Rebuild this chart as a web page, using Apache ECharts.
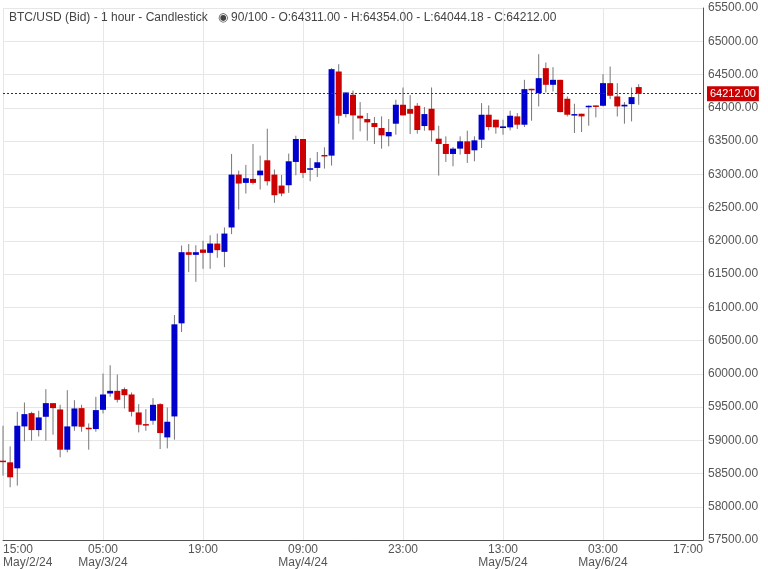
<!DOCTYPE html>
<html>
<head>
<meta charset="utf-8">
<script src="https://cdn.jsdelivr.net/npm/echarts@6/dist/echarts.min.js"></script>
<style>
html,body{margin:0;padding:0;background:#fff}
#chart{width:768px;height:569px}
</style>
</head>
<body>
<div id="chart"></div>
<script>
// hourly candles from May/2/24 15:00
const opens  = [58693,58668,58578,59208,59408,59153,59353,59558,59463,58858,59208,59483,59188,59168,59458,59703,59743,59768,59688,59418,59243,59293,59543,59043,59358,60758,61828,61788,61868,61818,61958,61833,62200,62995,62870,62930,62985,63210,62995,62830,62835,63185,63530,63085,63095,63290,63280,64545,63905,64195,63880,63830,63770,63695,63570,63760,64045,63980,64030,63725,63985,63535,63455,63305,63385,63495,63360,63520,63895,63820,63695,63705,63870,63745,64285,64220,64595,64345,64420,64135,63900,63910,64010,64035,64030,64370,64170,64020,64055,64311]
const highs  = [59218,58908,59428,59568,59428,59443,59768,59558,59533,59753,59603,59533,59253,59653,60003,60128,59988,59793,59718,59543,59468,59633,59558,59493,60883,61928,61950,61933,62000,62083,62108,62200,63305,63055,63140,63455,63280,63685,63070,62990,63310,63580,63530,63245,63335,63405,64595,64655,64230,64260,64085,63920,63860,63870,63830,64120,64305,64190,64070,64010,64305,63730,63570,63410,63570,63655,63570,64070,64035,63820,63820,63955,63920,64420,64285,64805,64680,64610,64420,64170,64060,63910,64035,64035,64505,64620,64370,64085,64305,64354]
const lows   = [58468,58293,58318,58983,58993,59058,58993,59083,58743,58818,59143,59128,58858,59128,59403,59653,59568,59478,59358,59118,59143,59233,58868,58878,59008,60628,61528,61383,61578,61578,61743,61603,62100,62470,62710,62845,62770,62830,62570,62670,62720,62985,62945,62895,62960,63085,63130,63760,63855,63520,63645,63505,63455,63385,63420,63595,63885,63605,63610,63655,63495,62980,63185,63120,63295,63170,63195,63395,63660,63610,63595,63660,63680,63710,63805,64020,64230,64245,63930,63870,63620,63635,63730,63855,64020,64130,63870,63760,63795,64044.18]
const closes = [58683,58443,59218,59393,59153,59343,59558,59483,58858,59208,59478,59203,59178,59453,59688,59743,59608,59678,59428,59233,59238,59533,59108,59278,60743,61828,61788,61828,61818,61958,61858,62108,62995,62860,62940,62870,63055,62895,62685,62710,63195,63530,63020,63090,63180,63285,64580,63880,64230,63885,63840,63780,63710,63585,63635,64045,63885,63910,63665,63905,63660,63455,63305,63385,63495,63305,63510,63895,63710,63705,63720,63880,63745,64280,64275,64445,64345,64420,63935,63895,63905,63870,64030,64030,64370,64180,64020,64045,64160,64212]
const totalHours = 99
const tickLabels = {0:'15:00\nMay/2/24',14:'05:00\nMay/3/24',28:'19:00',42:'09:00\nMay/4/24',56:'23:00',70:'13:00\nMay/5/24',84:'03:00\nMay/6/24',98:'17:00'}
const lastPrice = 64212

let cats = []
for (let i = 0; i < totalHours; i++) cats.push(i)
let data = []
for (let i = 0; i < opens.length; i++) data.push([i, opens[i], closes[i], lows[i], highs[i]])

const UP = '#0000cc', DOWN = '#cc0000'

let option = {
    animation: false,
    title: {
        text: 'BTC/USD (Bid) - 1 hour - Candlestick   \u25C9 90/100 - O:64311.00 - H:64354.00 - L:64044.18 - C:64212.00',
        left: 4, top: 7,
        textStyle: {fontFamily: 'Liberation Sans', fontSize: 12, fontWeight: 'normal', color: '#444'}
    },
    grid: {left: 3, right: 65, top: 8, bottom: 28, show: false},
    xAxis: {
        type: 'category',
        data: cats,
        boundaryGap: false,
        axisLine: {lineStyle: {color: '#555'}},
        axisTick: {show: false},
        splitLine: {show: true, interval: (i) => i % 14 === 0, lineStyle: {color: '#e6e6e6'}},
        axisLabel: {
            interval: 0,
            alignMinLabel: 'left',
            alignMaxLabel: 'right',
            formatter: (v, i) => tickLabels[i] || '',
            color: '#555', fontFamily: 'Liberation Sans', fontSize: 12, lineHeight: 13, margin: 3
        }
    },
    yAxis: {
        type: 'value',
        position: 'right',
        min: 57500, max: 65500, interval: 500,
        axisLine: {show: true, lineStyle: {color: '#555'}},
        axisTick: {show: false},
        splitLine: {lineStyle: {color: '#e6e6e6'}},
        axisLabel: {formatter: v => v.toFixed(2), color: '#555', fontFamily: 'Liberation Sans', fontSize: 12, margin: 5}
    },
    series: [{
        type: 'custom',
        data: data,
        renderItem: (params, api) => {
            let x = api.value(0)
            let o = api.value(1), c = api.value(2)
            let lo = api.coord([x, api.value(3)]), hi = api.coord([x, api.value(4)])
            let top = api.coord([x, Math.max(o, c)]), bot = api.coord([x, Math.min(o, c)])
            let w = 6
            let col = c >= o ? UP : DOWN
            return {
                type: 'group',
                children: [
                    {type: 'line', shape: {x1: lo[0], y1: lo[1], x2: hi[0], y2: hi[1]}, style: {stroke: '#777', lineWidth: 1}},
                    {type: 'rect', shape: {x: top[0] - w / 2, y: top[1], width: w, height: Math.max(bot[1] - top[1], 1.5)}, style: {fill: col}}
                ]
            }
        },
        markLine: {
            symbol: 'none',
            silent: true,
            data: [{yAxis: lastPrice}],
            lineStyle: {color: '#333', type: [2, 2], width: 1},
            label: {
                position: 'end', formatter: lastPrice.toFixed(2),
                backgroundColor: DOWN, color: '#fff', padding: [2, 3],
                fontFamily: 'Liberation Sans', fontSize: 11, distance: 4
            }
        }
    }]
}
echarts.init(document.querySelector('#chart')).setOption(option)
</script>
</body>
</html>
